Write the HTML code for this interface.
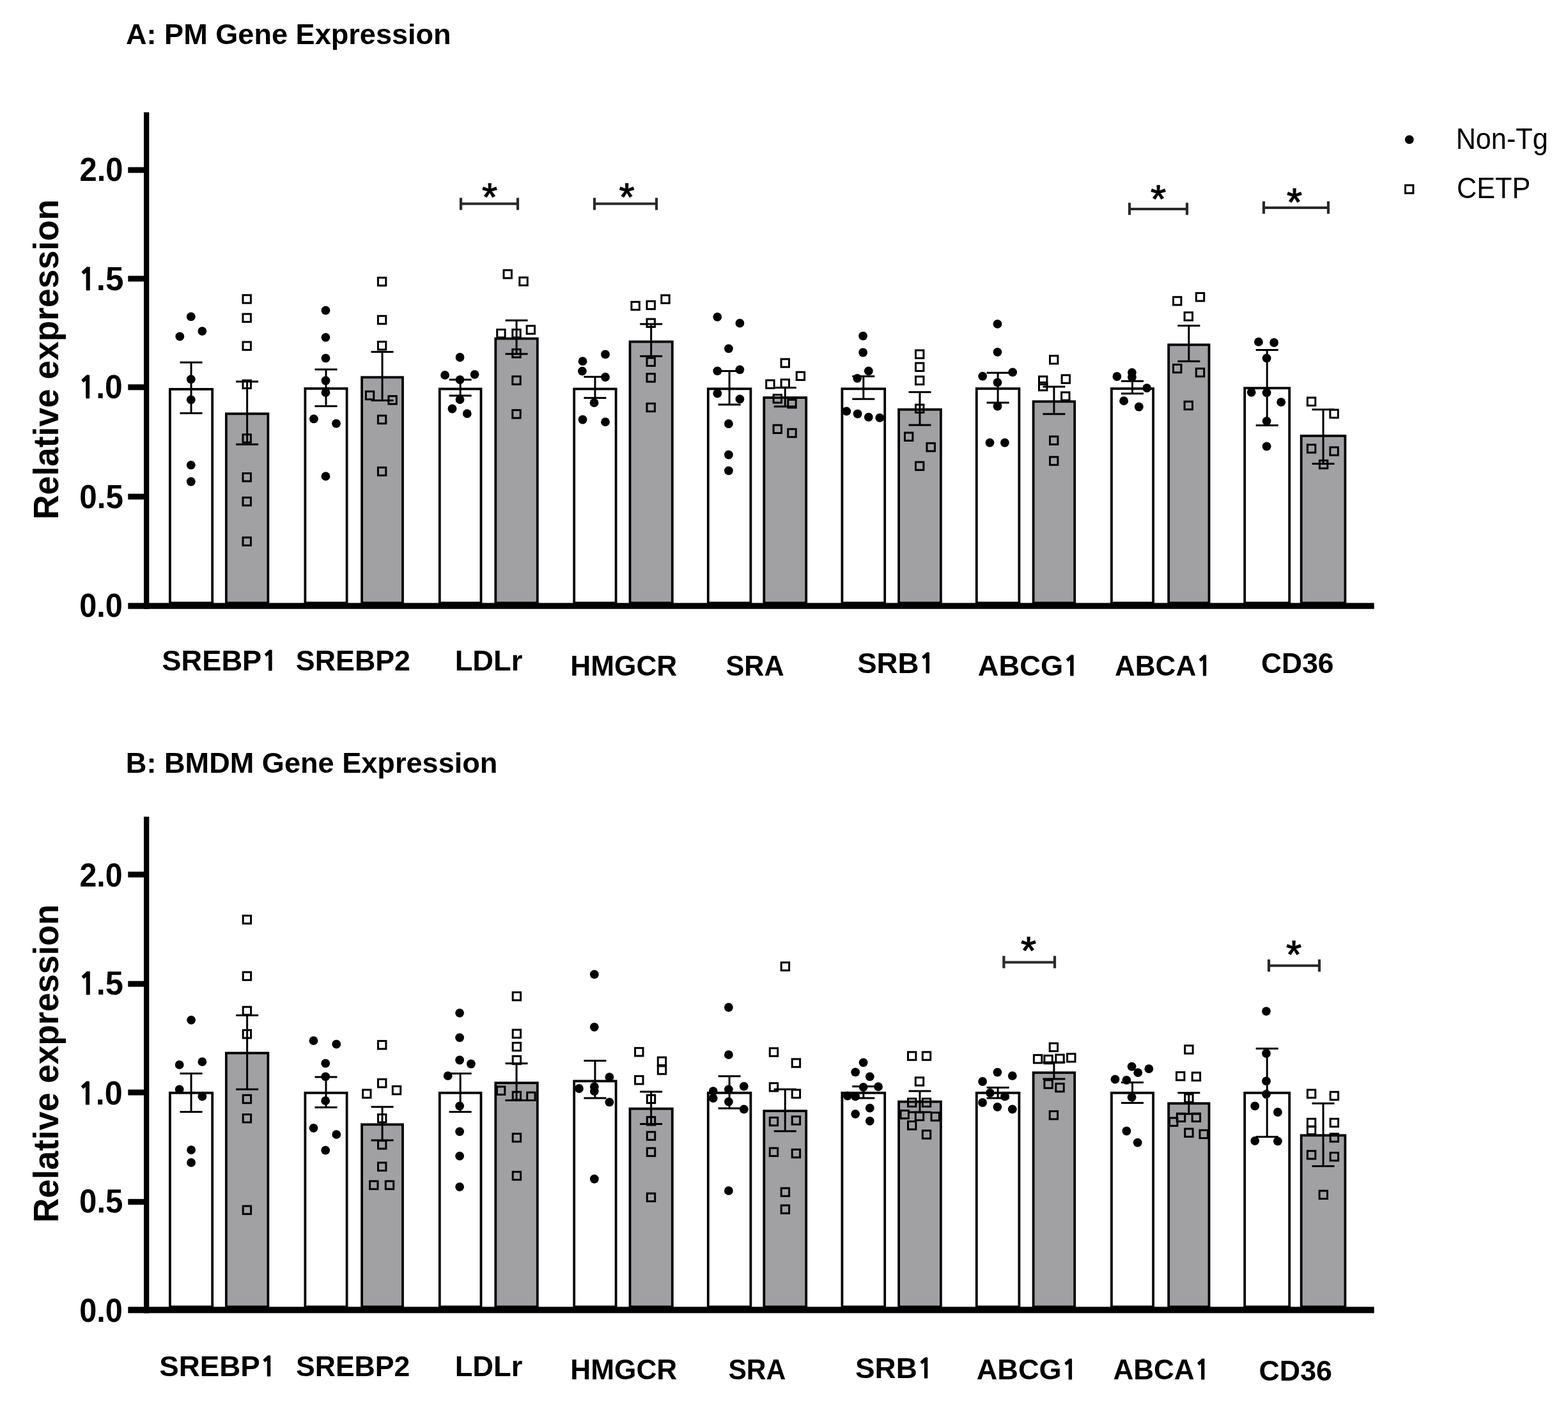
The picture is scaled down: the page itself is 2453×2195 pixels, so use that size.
<!DOCTYPE html>
<html><head><meta charset="utf-8"><title>PM and BMDM Gene Expression</title>
<style>html,body{margin:0;padding:0;background:#fff;overflow:hidden}svg{display:block}</style>
</head><body><div id="fig">
<svg width="2453" height="2195" viewBox="0 0 2453 2195" font-family="Liberation Sans, Arial, sans-serif">
<rect width="2453" height="2195" fill="#fff"/>
<rect x="265.90" y="608.90" width="66.30" height="334.40" fill="#fff" stroke="#000" stroke-width="3.8"/>
<rect x="353.90" y="647.30" width="65.50" height="296.00" fill="#a1a1a4" stroke="#000" stroke-width="3.8"/>
<rect x="477.40" y="607.90" width="65.20" height="335.40" fill="#fff" stroke="#000" stroke-width="3.8"/>
<rect x="566.10" y="590.30" width="63.90" height="353.00" fill="#a1a1a4" stroke="#000" stroke-width="3.8"/>
<rect x="687.80" y="608.50" width="64.70" height="334.80" fill="#fff" stroke="#000" stroke-width="3.8"/>
<rect x="775.30" y="529.70" width="65.50" height="413.60" fill="#a1a1a4" stroke="#000" stroke-width="3.8"/>
<rect x="898.20" y="608.50" width="65.40" height="334.80" fill="#fff" stroke="#000" stroke-width="3.8"/>
<rect x="985.50" y="534.60" width="66.30" height="408.70" fill="#a1a1a4" stroke="#000" stroke-width="3.8"/>
<rect x="1107.80" y="608.30" width="66.60" height="335.00" fill="#fff" stroke="#000" stroke-width="3.8"/>
<rect x="1195.30" y="622.10" width="65.90" height="321.20" fill="#a1a1a4" stroke="#000" stroke-width="3.8"/>
<rect x="1317.40" y="608.30" width="66.80" height="335.00" fill="#fff" stroke="#000" stroke-width="3.8"/>
<rect x="1406.10" y="640.70" width="65.80" height="302.60" fill="#a1a1a4" stroke="#000" stroke-width="3.8"/>
<rect x="1527.80" y="608.00" width="66.60" height="335.30" fill="#fff" stroke="#000" stroke-width="3.8"/>
<rect x="1616.60" y="628.20" width="64.60" height="315.10" fill="#a1a1a4" stroke="#000" stroke-width="3.8"/>
<rect x="1738.90" y="608.00" width="65.20" height="335.30" fill="#fff" stroke="#000" stroke-width="3.8"/>
<rect x="1828.20" y="539.40" width="63.30" height="403.90" fill="#a1a1a4" stroke="#000" stroke-width="3.8"/>
<rect x="1947.20" y="607.20" width="70.00" height="336.10" fill="#fff" stroke="#000" stroke-width="3.8"/>
<rect x="2035.70" y="681.90" width="68.70" height="261.40" fill="#a1a1a4" stroke="#000" stroke-width="3.8"/>
<path d="M281.55 567.00H316.55M299.05 567.00V646.50M281.55 646.50H316.55" stroke="#000" stroke-width="3.0" fill="none"/>
<path d="M369.15 597.00H404.15M386.65 597.00V695.20M369.15 695.20H404.15" stroke="#000" stroke-width="3.0" fill="none"/>
<path d="M492.50 578.00H527.50M510.00 578.00V635.40M492.50 635.40H527.50" stroke="#000" stroke-width="3.0" fill="none"/>
<path d="M580.55 550.50H615.55M598.05 550.50V626.50M580.55 626.50H615.55" stroke="#000" stroke-width="3.0" fill="none"/>
<path d="M702.65 594.10H737.65M720.15 594.10V618.90M702.65 618.90H737.65" stroke="#000" stroke-width="3.0" fill="none"/>
<path d="M790.55 501.20H825.55M808.05 501.20V553.80M790.55 553.80H825.55" stroke="#000" stroke-width="3.0" fill="none"/>
<path d="M913.40 589.60H948.40M930.90 589.60V622.60M913.40 622.60H948.40" stroke="#000" stroke-width="3.0" fill="none"/>
<path d="M1001.15 507.00H1036.15M1018.65 507.00V557.30M1001.15 557.30H1036.15" stroke="#000" stroke-width="3.0" fill="none"/>
<path d="M1123.60 580.40H1158.60M1141.10 580.40V633.10M1123.60 633.10H1158.60" stroke="#000" stroke-width="3.0" fill="none"/>
<path d="M1210.75 606.60H1245.75M1228.25 606.60V636.00M1210.75 636.00H1245.75" stroke="#000" stroke-width="3.0" fill="none"/>
<path d="M1333.30 588.70H1368.30M1350.80 588.70V624.20M1333.30 624.20H1368.30" stroke="#000" stroke-width="3.0" fill="none"/>
<path d="M1421.50 613.40H1456.50M1439.00 613.40V665.10M1421.50 665.10H1456.50" stroke="#000" stroke-width="3.0" fill="none"/>
<path d="M1543.60 583.20H1578.60M1561.10 583.20V629.90M1543.60 629.90H1578.60" stroke="#000" stroke-width="3.0" fill="none"/>
<path d="M1631.40 605.10H1666.40M1648.90 605.10V647.80M1631.40 647.80H1666.40" stroke="#000" stroke-width="3.0" fill="none"/>
<path d="M1754.00 596.20H1789.00M1771.50 596.20V615.80M1754.00 615.80H1789.00" stroke="#000" stroke-width="3.0" fill="none"/>
<path d="M1842.35 509.50H1877.35M1859.85 509.50V565.20M1842.35 565.20H1877.35" stroke="#000" stroke-width="3.0" fill="none"/>
<path d="M1964.70 547.60H1999.70M1982.20 547.60V665.40M1964.70 665.40H1999.70" stroke="#000" stroke-width="3.0" fill="none"/>
<path d="M2052.55 640.70H2087.55M2070.05 640.70V725.60M2052.55 725.60H2087.55" stroke="#000" stroke-width="3.0" fill="none"/>
<circle cx="298.8" cy="495.4" r="6.9"/>
<circle cx="281.3" cy="526.3" r="6.9"/>
<circle cx="316.4" cy="518.1" r="6.9"/>
<circle cx="298.8" cy="593.4" r="6.9"/>
<circle cx="298.8" cy="625.4" r="6.9"/>
<circle cx="298.8" cy="727.7" r="6.9"/>
<circle cx="298.8" cy="753.5" r="6.9"/>
<circle cx="509.5" cy="485.7" r="6.9"/>
<circle cx="509.5" cy="527.8" r="6.9"/>
<circle cx="509.5" cy="560.4" r="6.9"/>
<circle cx="509.5" cy="595.5" r="6.9"/>
<circle cx="509.5" cy="614.1" r="6.9"/>
<circle cx="490.9" cy="655.4" r="6.9"/>
<circle cx="526.0" cy="662.6" r="6.9"/>
<circle cx="509.5" cy="745.2" r="6.9"/>
<circle cx="719.5" cy="559.0" r="6.9"/>
<circle cx="696.1" cy="586.9" r="6.9"/>
<circle cx="742.6" cy="585.8" r="6.9"/>
<circle cx="719.5" cy="594.1" r="6.9"/>
<circle cx="719.5" cy="625.1" r="6.9"/>
<circle cx="707.5" cy="639.5" r="6.9"/>
<circle cx="730.8" cy="647.1" r="6.9"/>
<circle cx="947.0" cy="554.4" r="6.9"/>
<circle cx="911.5" cy="565.2" r="6.9"/>
<circle cx="910.9" cy="580.7" r="6.9"/>
<circle cx="947.0" cy="590.0" r="6.9"/>
<circle cx="929.5" cy="630.2" r="6.9"/>
<circle cx="911.5" cy="656.5" r="6.9"/>
<circle cx="947.0" cy="660.2" r="6.9"/>
<circle cx="1122.3" cy="495.8" r="6.9"/>
<circle cx="1157.4" cy="505.7" r="6.9"/>
<circle cx="1139.9" cy="545.3" r="6.9"/>
<circle cx="1122.3" cy="580.4" r="6.9"/>
<circle cx="1157.4" cy="578.3" r="6.9"/>
<circle cx="1122.3" cy="615.5" r="6.9"/>
<circle cx="1157.4" cy="624.4" r="6.9"/>
<circle cx="1139.9" cy="663.0" r="6.9"/>
<circle cx="1139.9" cy="711.5" r="6.9"/>
<circle cx="1139.9" cy="736.3" r="6.9"/>
<circle cx="1350.1" cy="525.7" r="6.9"/>
<circle cx="1350.1" cy="551.5" r="6.9"/>
<circle cx="1358.8" cy="580.4" r="6.9"/>
<circle cx="1341.2" cy="591.8" r="6.9"/>
<circle cx="1324.3" cy="643.4" r="6.9"/>
<circle cx="1341.6" cy="647.5" r="6.9"/>
<circle cx="1358.8" cy="652.7" r="6.9"/>
<circle cx="1376.3" cy="653.7" r="6.9"/>
<circle cx="1560.5" cy="506.8" r="6.9"/>
<circle cx="1560.5" cy="550.8" r="6.9"/>
<circle cx="1537.2" cy="588.6" r="6.9"/>
<circle cx="1584.2" cy="582.4" r="6.9"/>
<circle cx="1560.5" cy="598.3" r="6.9"/>
<circle cx="1560.5" cy="635.5" r="6.9"/>
<circle cx="1548.5" cy="692.6" r="6.9"/>
<circle cx="1571.9" cy="692.6" r="6.9"/>
<circle cx="1747.4" cy="589.0" r="6.9"/>
<circle cx="1770.9" cy="582.8" r="6.9"/>
<circle cx="1770.9" cy="590.0" r="6.9"/>
<circle cx="1794.2" cy="607.2" r="6.9"/>
<circle cx="1758.1" cy="627.2" r="6.9"/>
<circle cx="1781.8" cy="636.5" r="6.9"/>
<circle cx="1968.9" cy="534.9" r="6.9"/>
<circle cx="1993.1" cy="536.0" r="6.9"/>
<circle cx="1981.6" cy="560.3" r="6.9"/>
<circle cx="1957.7" cy="613.8" r="6.9"/>
<circle cx="1981.6" cy="614.3" r="6.9"/>
<circle cx="2004.2" cy="629.2" r="6.9"/>
<circle cx="1981.6" cy="658.8" r="6.9"/>
<circle cx="1981.6" cy="698.4" r="6.9"/>
<rect x="380.00" y="461.70" width="12.40" height="12.40" fill="none" stroke="#000" stroke-width="3.0"/>
<rect x="380.00" y="491.20" width="12.40" height="12.40" fill="none" stroke="#000" stroke-width="3.0"/>
<rect x="380.00" y="535.00" width="12.40" height="12.40" fill="none" stroke="#000" stroke-width="3.0"/>
<rect x="380.00" y="595.10" width="12.40" height="12.40" fill="none" stroke="#000" stroke-width="3.0"/>
<rect x="380.00" y="679.80" width="12.40" height="12.40" fill="none" stroke="#000" stroke-width="3.0"/>
<rect x="380.00" y="740.50" width="12.40" height="12.40" fill="none" stroke="#000" stroke-width="3.0"/>
<rect x="380.00" y="778.40" width="12.40" height="12.40" fill="none" stroke="#000" stroke-width="3.0"/>
<rect x="380.00" y="840.90" width="12.40" height="12.40" fill="none" stroke="#000" stroke-width="3.0"/>
<rect x="591.40" y="434.40" width="12.40" height="12.40" fill="none" stroke="#000" stroke-width="3.0"/>
<rect x="591.40" y="494.30" width="12.40" height="12.40" fill="none" stroke="#000" stroke-width="3.0"/>
<rect x="591.40" y="534.60" width="12.40" height="12.40" fill="none" stroke="#000" stroke-width="3.0"/>
<rect x="572.40" y="612.40" width="12.40" height="12.40" fill="none" stroke="#000" stroke-width="3.0"/>
<rect x="607.90" y="619.70" width="12.40" height="12.40" fill="none" stroke="#000" stroke-width="3.0"/>
<rect x="591.40" y="650.20" width="12.40" height="12.40" fill="none" stroke="#000" stroke-width="3.0"/>
<rect x="591.40" y="731.40" width="12.40" height="12.40" fill="none" stroke="#000" stroke-width="3.0"/>
<rect x="788.00" y="422.70" width="12.40" height="12.40" fill="none" stroke="#000" stroke-width="3.0"/>
<rect x="812.80" y="434.10" width="12.40" height="12.40" fill="none" stroke="#000" stroke-width="3.0"/>
<rect x="777.70" y="515.60" width="12.40" height="12.40" fill="none" stroke="#000" stroke-width="3.0"/>
<rect x="801.80" y="515.60" width="12.40" height="12.40" fill="none" stroke="#000" stroke-width="3.0"/>
<rect x="824.10" y="509.80" width="12.40" height="12.40" fill="none" stroke="#000" stroke-width="3.0"/>
<rect x="801.80" y="546.60" width="12.40" height="12.40" fill="none" stroke="#000" stroke-width="3.0"/>
<rect x="801.80" y="588.90" width="12.40" height="12.40" fill="none" stroke="#000" stroke-width="3.0"/>
<rect x="801.80" y="641.60" width="12.40" height="12.40" fill="none" stroke="#000" stroke-width="3.0"/>
<rect x="987.90" y="472.30" width="12.40" height="12.40" fill="none" stroke="#000" stroke-width="3.0"/>
<rect x="1012.00" y="471.20" width="12.40" height="12.40" fill="none" stroke="#000" stroke-width="3.0"/>
<rect x="1034.80" y="461.90" width="12.40" height="12.40" fill="none" stroke="#000" stroke-width="3.0"/>
<rect x="1012.00" y="499.10" width="12.40" height="12.40" fill="none" stroke="#000" stroke-width="3.0"/>
<rect x="1012.00" y="560.00" width="12.40" height="12.40" fill="none" stroke="#000" stroke-width="3.0"/>
<rect x="1012.00" y="584.80" width="12.40" height="12.40" fill="none" stroke="#000" stroke-width="3.0"/>
<rect x="1012.00" y="631.30" width="12.40" height="12.40" fill="none" stroke="#000" stroke-width="3.0"/>
<rect x="1222.10" y="561.80" width="12.40" height="12.40" fill="none" stroke="#000" stroke-width="3.0"/>
<rect x="1246.20" y="582.10" width="12.40" height="12.40" fill="none" stroke="#000" stroke-width="3.0"/>
<rect x="1198.70" y="594.90" width="12.40" height="12.40" fill="none" stroke="#000" stroke-width="3.0"/>
<rect x="1222.10" y="593.80" width="12.40" height="12.40" fill="none" stroke="#000" stroke-width="3.0"/>
<rect x="1210.10" y="617.60" width="12.40" height="12.40" fill="none" stroke="#000" stroke-width="3.0"/>
<rect x="1232.80" y="625.40" width="12.40" height="12.40" fill="none" stroke="#000" stroke-width="3.0"/>
<rect x="1210.10" y="665.10" width="12.40" height="12.40" fill="none" stroke="#000" stroke-width="3.0"/>
<rect x="1232.80" y="671.30" width="12.40" height="12.40" fill="none" stroke="#000" stroke-width="3.0"/>
<rect x="1432.50" y="548.00" width="12.40" height="12.40" fill="none" stroke="#000" stroke-width="3.0"/>
<rect x="1432.50" y="568.00" width="12.40" height="12.40" fill="none" stroke="#000" stroke-width="3.0"/>
<rect x="1432.50" y="589.10" width="12.40" height="12.40" fill="none" stroke="#000" stroke-width="3.0"/>
<rect x="1432.50" y="633.10" width="12.40" height="12.40" fill="none" stroke="#000" stroke-width="3.0"/>
<rect x="1415.50" y="677.00" width="12.40" height="12.40" fill="none" stroke="#000" stroke-width="3.0"/>
<rect x="1450.00" y="693.40" width="12.40" height="12.40" fill="none" stroke="#000" stroke-width="3.0"/>
<rect x="1432.50" y="722.90" width="12.40" height="12.40" fill="none" stroke="#000" stroke-width="3.0"/>
<rect x="1642.50" y="556.60" width="12.40" height="12.40" fill="none" stroke="#000" stroke-width="3.0"/>
<rect x="1661.10" y="586.90" width="12.40" height="12.40" fill="none" stroke="#000" stroke-width="3.0"/>
<rect x="1625.50" y="589.00" width="12.40" height="12.40" fill="none" stroke="#000" stroke-width="3.0"/>
<rect x="1625.50" y="598.30" width="12.40" height="12.40" fill="none" stroke="#000" stroke-width="3.0"/>
<rect x="1660.60" y="613.80" width="12.40" height="12.40" fill="none" stroke="#000" stroke-width="3.0"/>
<rect x="1642.50" y="682.90" width="12.40" height="12.40" fill="none" stroke="#000" stroke-width="3.0"/>
<rect x="1642.50" y="714.90" width="12.40" height="12.40" fill="none" stroke="#000" stroke-width="3.0"/>
<rect x="1835.50" y="464.70" width="12.40" height="12.40" fill="none" stroke="#000" stroke-width="3.0"/>
<rect x="1871.30" y="458.50" width="12.40" height="12.40" fill="none" stroke="#000" stroke-width="3.0"/>
<rect x="1853.10" y="488.80" width="12.40" height="12.40" fill="none" stroke="#000" stroke-width="3.0"/>
<rect x="1835.50" y="570.40" width="12.40" height="12.40" fill="none" stroke="#000" stroke-width="3.0"/>
<rect x="1871.30" y="576.60" width="12.40" height="12.40" fill="none" stroke="#000" stroke-width="3.0"/>
<rect x="1853.10" y="628.20" width="12.40" height="12.40" fill="none" stroke="#000" stroke-width="3.0"/>
<rect x="2045.40" y="622.10" width="12.40" height="12.40" fill="none" stroke="#000" stroke-width="3.0"/>
<rect x="2080.90" y="641.10" width="12.40" height="12.40" fill="none" stroke="#000" stroke-width="3.0"/>
<rect x="2045.40" y="695.70" width="12.40" height="12.40" fill="none" stroke="#000" stroke-width="3.0"/>
<rect x="2080.90" y="699.80" width="12.40" height="12.40" fill="none" stroke="#000" stroke-width="3.0"/>
<rect x="2064.40" y="720.40" width="12.40" height="12.40" fill="none" stroke="#000" stroke-width="3.0"/>
<rect x="225" y="175.60" width="8.3" height="777.10" fill="#000"/>
<rect x="200.3" y="943.30" width="1949.40" height="9.40" fill="#000"/>
<rect x="200.3" y="261.50" width="28" height="9" fill="#000"/>
<rect x="200.3" y="431.50" width="28" height="9" fill="#000"/>
<rect x="200.3" y="601.30" width="28" height="9" fill="#000"/>
<rect x="200.3" y="772.50" width="28" height="9" fill="#000"/>
<path d="M721.0 318.8H810.0" stroke="#2a2a2a" stroke-width="4" fill="none"/>
<path d="M721.0 309.6V328.5M810.0 309.6V328.5" stroke="#2a2a2a" stroke-width="4.2" fill="none"/>
<text transform="translate(754.07,329.18) scale(1.0000,1)" font-weight="normal" font-size="62" fill="#000" stroke="#000" stroke-width="1.2">*</text>
<path d="M930.0 318.8H1027.0" stroke="#2a2a2a" stroke-width="4" fill="none"/>
<path d="M930.0 309.6V328.5M1027.0 309.6V328.5" stroke="#2a2a2a" stroke-width="4.2" fill="none"/>
<text transform="translate(968.57,329.18) scale(1.0000,1)" font-weight="normal" font-size="62" fill="#000" stroke="#000" stroke-width="1.2">*</text>
<path d="M1767.0 327.0H1857.0" stroke="#2a2a2a" stroke-width="4" fill="none"/>
<path d="M1767.0 317.3V336.3M1857.0 317.3V336.3" stroke="#2a2a2a" stroke-width="4.2" fill="none"/>
<text transform="translate(1800.06,332.28) scale(1.0000,1)" font-weight="normal" font-size="62" fill="#000" stroke="#000" stroke-width="1.2">*</text>
<path d="M1977.0 325.0H2078.0" stroke="#2a2a2a" stroke-width="4" fill="none"/>
<path d="M1977.0 315.0V334.5M2078.0 315.0V334.5" stroke="#2a2a2a" stroke-width="4.2" fill="none"/>
<text transform="translate(2013.06,337.48) scale(1.0000,1)" font-weight="normal" font-size="62" fill="#000" stroke="#000" stroke-width="1.2">*</text>
<text transform="translate(196.97,69.10) scale(1.0250,1)" font-weight="bold" font-size="44" fill="#000">A: PM Gene Expression</text>
<text transform="translate(91.20,812.77) rotate(-90) scale(0.9609,1)" font-weight="bold" font-size="55.5">Relative expression</text>
<text transform="translate(124.49,283.30) scale(0.9495,1)" font-weight="bold" font-size="51.5" fill="#000">2.0</text>
<text transform="translate(122.17,454.10) scale(0.9933,1)" font-weight="bold" font-size="51.5" fill="#000"><tspan font-family="NanumGothic, Liberation Sans, sans-serif" font-size="47.64" stroke="#000" stroke-width="1.10" stroke-linejoin="round">1</tspan>.5</text>
<text transform="translate(122.32,622.90) scale(0.9670,1)" font-weight="bold" font-size="51.5" fill="#000"><tspan font-family="NanumGothic, Liberation Sans, sans-serif" font-size="47.64" stroke="#000" stroke-width="1.10" stroke-linejoin="round">1</tspan>.0</text>
<text transform="translate(124.22,795.40) scale(0.9591,1)" font-weight="bold" font-size="51.5" fill="#000">0.5</text>
<text transform="translate(124.25,964.50) scale(0.9457,1)" font-weight="bold" font-size="51.5" fill="#000">0.0</text>
<text transform="translate(253.34,1049.20) scale(1.0173,1)" font-weight="bold" font-size="44.5" fill="#000">SREBP<tspan font-family="NanumGothic, Liberation Sans, sans-serif" font-size="41.16" stroke="#000" stroke-width="0.95" stroke-linejoin="round">1</tspan></text>
<text transform="translate(462.86,1049.20) scale(1.0064,1)" font-weight="bold" font-size="44.5" fill="#000">SREBP2</text>
<text transform="translate(711.65,1049.10) scale(1.0185,1)" font-weight="bold" font-size="44.5" fill="#000">LDLr</text>
<text transform="translate(892.22,1056.50) scale(0.9945,1)" font-weight="bold" font-size="44.5" fill="#000">HMGCR</text>
<text transform="translate(1135.40,1056.50) scale(0.9721,1)" font-weight="bold" font-size="44.5" fill="#000">SRA</text>
<text transform="translate(1341.13,1053.10) scale(1.0269,1)" font-weight="bold" font-size="44.5" fill="#000">SRB<tspan font-family="NanumGothic, Liberation Sans, sans-serif" font-size="41.16" stroke="#000" stroke-width="0.95" stroke-linejoin="round">1</tspan></text>
<text transform="translate(1529.87,1056.50) scale(1.0181,1)" font-weight="bold" font-size="44.5" fill="#000">ABCG<tspan font-family="NanumGothic, Liberation Sans, sans-serif" font-size="41.16" stroke="#000" stroke-width="0.95" stroke-linejoin="round">1</tspan></text>
<text transform="translate(1744.00,1056.50) scale(0.9902,1)" font-weight="bold" font-size="44.5" fill="#000">ABCA<tspan font-family="NanumGothic, Liberation Sans, sans-serif" font-size="41.16" stroke="#000" stroke-width="0.95" stroke-linejoin="round">1</tspan></text>
<text transform="translate(1973.02,1053.10) scale(0.9976,1)" font-weight="bold" font-size="44.5" fill="#000">CD36</text>
<rect x="265.90" y="1709.80" width="66.30" height="334.70" fill="#fff" stroke="#000" stroke-width="3.8"/>
<rect x="353.90" y="1647.50" width="65.50" height="397.00" fill="#a1a1a4" stroke="#000" stroke-width="3.8"/>
<rect x="477.40" y="1709.80" width="65.20" height="334.70" fill="#fff" stroke="#000" stroke-width="3.8"/>
<rect x="566.10" y="1759.30" width="63.90" height="285.20" fill="#a1a1a4" stroke="#000" stroke-width="3.8"/>
<rect x="687.80" y="1709.80" width="64.70" height="334.70" fill="#fff" stroke="#000" stroke-width="3.8"/>
<rect x="775.30" y="1694.20" width="65.50" height="350.30" fill="#a1a1a4" stroke="#000" stroke-width="3.8"/>
<rect x="898.20" y="1691.40" width="65.40" height="353.10" fill="#fff" stroke="#000" stroke-width="3.8"/>
<rect x="985.50" y="1734.60" width="66.30" height="309.90" fill="#a1a1a4" stroke="#000" stroke-width="3.8"/>
<rect x="1107.80" y="1709.80" width="66.60" height="334.70" fill="#fff" stroke="#000" stroke-width="3.8"/>
<rect x="1195.30" y="1738.10" width="65.90" height="306.40" fill="#a1a1a4" stroke="#000" stroke-width="3.8"/>
<rect x="1317.40" y="1709.80" width="66.80" height="334.70" fill="#fff" stroke="#000" stroke-width="3.8"/>
<rect x="1406.10" y="1723.60" width="65.80" height="320.90" fill="#a1a1a4" stroke="#000" stroke-width="3.8"/>
<rect x="1527.80" y="1709.80" width="66.60" height="334.70" fill="#fff" stroke="#000" stroke-width="3.8"/>
<rect x="1616.60" y="1678.20" width="64.60" height="366.30" fill="#a1a1a4" stroke="#000" stroke-width="3.8"/>
<rect x="1738.90" y="1709.80" width="65.20" height="334.70" fill="#fff" stroke="#000" stroke-width="3.8"/>
<rect x="1828.20" y="1726.30" width="63.30" height="318.20" fill="#a1a1a4" stroke="#000" stroke-width="3.8"/>
<rect x="1947.20" y="1709.80" width="70.00" height="334.70" fill="#fff" stroke="#000" stroke-width="3.8"/>
<rect x="2035.70" y="1776.30" width="68.70" height="268.20" fill="#a1a1a4" stroke="#000" stroke-width="3.8"/>
<path d="M281.55 1679.60H316.55M299.05 1679.60V1739.50M281.55 1739.50H316.55" stroke="#000" stroke-width="3.0" fill="none"/>
<path d="M369.15 1588.40H404.15M386.65 1588.40V1704.30M369.15 1704.30H404.15" stroke="#000" stroke-width="3.0" fill="none"/>
<path d="M492.50 1685.10H527.50M510.00 1685.10V1732.40M492.50 1732.40H527.50" stroke="#000" stroke-width="3.0" fill="none"/>
<path d="M580.55 1731.80H615.55M598.05 1731.80V1784.00M580.55 1784.00H615.55" stroke="#000" stroke-width="3.0" fill="none"/>
<path d="M702.65 1679.60H737.65M720.15 1679.60V1739.50M702.65 1739.50H737.65" stroke="#000" stroke-width="3.0" fill="none"/>
<path d="M790.55 1663.70H825.55M808.05 1663.70V1721.60M790.55 1721.60H825.55" stroke="#000" stroke-width="3.0" fill="none"/>
<path d="M913.40 1659.60H948.40M930.90 1659.60V1718.10M913.40 1718.10H948.40" stroke="#000" stroke-width="3.0" fill="none"/>
<path d="M1001.15 1707.90H1036.15M1018.65 1707.90V1758.50M1001.15 1758.50H1036.15" stroke="#000" stroke-width="3.0" fill="none"/>
<path d="M1123.60 1683.70H1158.60M1141.10 1683.70V1734.00M1123.60 1734.00H1158.60" stroke="#000" stroke-width="3.0" fill="none"/>
<path d="M1210.75 1704.30H1245.75M1228.25 1704.30V1769.70M1210.75 1769.70H1245.75" stroke="#000" stroke-width="3.0" fill="none"/>
<path d="M1333.30 1699.70H1368.30M1350.80 1699.70V1718.10M1333.30 1718.10H1368.30" stroke="#000" stroke-width="3.0" fill="none"/>
<path d="M1421.50 1707.10H1456.50M1439.00 1707.10V1740.00M1421.50 1740.00H1456.50" stroke="#000" stroke-width="3.0" fill="none"/>
<path d="M1543.60 1701.60H1578.60M1561.10 1701.60V1718.00M1543.60 1718.00H1578.60" stroke="#000" stroke-width="3.0" fill="none"/>
<path d="M1631.40 1662.00H1666.40M1648.90 1662.00V1688.00M1631.40 1688.00H1666.40" stroke="#000" stroke-width="3.0" fill="none"/>
<path d="M1754.00 1693.40H1789.00M1771.50 1693.40V1725.50M1754.00 1725.50H1789.00" stroke="#000" stroke-width="3.0" fill="none"/>
<path d="M1842.35 1709.80H1877.35M1859.85 1709.80V1742.80M1842.35 1742.80H1877.35" stroke="#000" stroke-width="3.0" fill="none"/>
<path d="M1964.70 1640.60H1999.70M1982.20 1640.60V1778.50M1964.70 1778.50H1999.70" stroke="#000" stroke-width="3.0" fill="none"/>
<path d="M2052.55 1726.30H2087.55M2070.05 1726.30V1824.40M2052.55 1824.40H2087.55" stroke="#000" stroke-width="3.0" fill="none"/>
<circle cx="299.1" cy="1595.8" r="6.9"/>
<circle cx="280.7" cy="1665.9" r="6.9"/>
<circle cx="316.4" cy="1661.2" r="6.9"/>
<circle cx="280.7" cy="1704.3" r="6.9"/>
<circle cx="316.4" cy="1715.3" r="6.9"/>
<circle cx="299.1" cy="1799.1" r="6.9"/>
<circle cx="299.1" cy="1818.9" r="6.9"/>
<circle cx="490.5" cy="1628.2" r="6.9"/>
<circle cx="526.3" cy="1633.7" r="6.9"/>
<circle cx="509.2" cy="1663.7" r="6.9"/>
<circle cx="509.2" cy="1684.3" r="6.9"/>
<circle cx="509.2" cy="1722.2" r="6.9"/>
<circle cx="490.5" cy="1764.8" r="6.9"/>
<circle cx="526.3" cy="1774.9" r="6.9"/>
<circle cx="509.2" cy="1799.7" r="6.9"/>
<circle cx="719.1" cy="1584.8" r="6.9"/>
<circle cx="719.1" cy="1623.3" r="6.9"/>
<circle cx="719.1" cy="1658.5" r="6.9"/>
<circle cx="736.9" cy="1664.5" r="6.9"/>
<circle cx="700.7" cy="1683.2" r="6.9"/>
<circle cx="719.1" cy="1730.4" r="6.9"/>
<circle cx="719.1" cy="1770.3" r="6.9"/>
<circle cx="719.1" cy="1808.7" r="6.9"/>
<circle cx="719.1" cy="1856.8" r="6.9"/>
<circle cx="929.8" cy="1524.4" r="6.9"/>
<circle cx="929.8" cy="1606.8" r="6.9"/>
<circle cx="953.4" cy="1685.1" r="6.9"/>
<circle cx="905.9" cy="1703.0" r="6.9"/>
<circle cx="929.8" cy="1700.2" r="6.9"/>
<circle cx="929.8" cy="1707.1" r="6.9"/>
<circle cx="953.4" cy="1724.4" r="6.9"/>
<circle cx="929.8" cy="1844.5" r="6.9"/>
<circle cx="1139.9" cy="1576.0" r="6.9"/>
<circle cx="1139.9" cy="1650.2" r="6.9"/>
<circle cx="1163.8" cy="1699.7" r="6.9"/>
<circle cx="1139.9" cy="1704.3" r="6.9"/>
<circle cx="1115.7" cy="1707.1" r="6.9"/>
<circle cx="1115.7" cy="1718.1" r="6.9"/>
<circle cx="1139.9" cy="1723.6" r="6.9"/>
<circle cx="1163.8" cy="1735.4" r="6.9"/>
<circle cx="1139.9" cy="1862.9" r="6.9"/>
<circle cx="1350.6" cy="1662.3" r="6.9"/>
<circle cx="1338.2" cy="1677.4" r="6.9"/>
<circle cx="1360.8" cy="1684.3" r="6.9"/>
<circle cx="1350.6" cy="1700.8" r="6.9"/>
<circle cx="1374.0" cy="1700.2" r="6.9"/>
<circle cx="1325.9" cy="1714.5" r="6.9"/>
<circle cx="1338.2" cy="1715.3" r="6.9"/>
<circle cx="1360.8" cy="1733.7" r="6.9"/>
<circle cx="1338.2" cy="1742.8" r="6.9"/>
<circle cx="1360.8" cy="1753.8" r="6.9"/>
<circle cx="1560.4" cy="1677.7" r="6.9"/>
<circle cx="1537.1" cy="1692.0" r="6.9"/>
<circle cx="1583.8" cy="1683.2" r="6.9"/>
<circle cx="1548.9" cy="1709.8" r="6.9"/>
<circle cx="1572.0" cy="1715.3" r="6.9"/>
<circle cx="1537.1" cy="1725.0" r="6.9"/>
<circle cx="1560.4" cy="1731.8" r="6.9"/>
<circle cx="1583.8" cy="1735.4" r="6.9"/>
<circle cx="1770.6" cy="1668.6" r="6.9"/>
<circle cx="1797.3" cy="1672.2" r="6.9"/>
<circle cx="1780.2" cy="1678.2" r="6.9"/>
<circle cx="1744.5" cy="1688.7" r="6.9"/>
<circle cx="1762.4" cy="1689.8" r="6.9"/>
<circle cx="1770.6" cy="1716.7" r="6.9"/>
<circle cx="1762.4" cy="1769.5" r="6.9"/>
<circle cx="1779.7" cy="1787.6" r="6.9"/>
<circle cx="1981.0" cy="1582.1" r="6.9"/>
<circle cx="1981.0" cy="1648.0" r="6.9"/>
<circle cx="1981.0" cy="1691.4" r="6.9"/>
<circle cx="1981.0" cy="1711.8" r="6.9"/>
<circle cx="1963.2" cy="1730.4" r="6.9"/>
<circle cx="1998.9" cy="1740.0" r="6.9"/>
<circle cx="1963.2" cy="1784.8" r="6.9"/>
<circle cx="1998.9" cy="1785.4" r="6.9"/>
<rect x="380.20" y="1432.50" width="12.40" height="12.40" fill="none" stroke="#000" stroke-width="3.0"/>
<rect x="380.20" y="1520.90" width="12.40" height="12.40" fill="none" stroke="#000" stroke-width="3.0"/>
<rect x="380.20" y="1575.30" width="12.40" height="12.40" fill="none" stroke="#000" stroke-width="3.0"/>
<rect x="380.20" y="1611.60" width="12.40" height="12.40" fill="none" stroke="#000" stroke-width="3.0"/>
<rect x="380.20" y="1713.30" width="12.40" height="12.40" fill="none" stroke="#000" stroke-width="3.0"/>
<rect x="380.20" y="1743.50" width="12.40" height="12.40" fill="none" stroke="#000" stroke-width="3.0"/>
<rect x="380.20" y="1886.90" width="12.40" height="12.40" fill="none" stroke="#000" stroke-width="3.0"/>
<rect x="591.50" y="1628.60" width="12.40" height="12.40" fill="none" stroke="#000" stroke-width="3.0"/>
<rect x="591.50" y="1688.50" width="12.40" height="12.40" fill="none" stroke="#000" stroke-width="3.0"/>
<rect x="567.60" y="1705.00" width="12.40" height="12.40" fill="none" stroke="#000" stroke-width="3.0"/>
<rect x="614.30" y="1699.50" width="12.40" height="12.40" fill="none" stroke="#000" stroke-width="3.0"/>
<rect x="591.50" y="1743.50" width="12.40" height="12.40" fill="none" stroke="#000" stroke-width="3.0"/>
<rect x="591.50" y="1784.70" width="12.40" height="12.40" fill="none" stroke="#000" stroke-width="3.0"/>
<rect x="591.50" y="1819.00" width="12.40" height="12.40" fill="none" stroke="#000" stroke-width="3.0"/>
<rect x="578.60" y="1847.90" width="12.40" height="12.40" fill="none" stroke="#000" stroke-width="3.0"/>
<rect x="603.30" y="1847.90" width="12.40" height="12.40" fill="none" stroke="#000" stroke-width="3.0"/>
<rect x="802.20" y="1552.50" width="12.40" height="12.40" fill="none" stroke="#000" stroke-width="3.0"/>
<rect x="802.20" y="1611.10" width="12.40" height="12.40" fill="none" stroke="#000" stroke-width="3.0"/>
<rect x="802.20" y="1631.40" width="12.40" height="12.40" fill="none" stroke="#000" stroke-width="3.0"/>
<rect x="802.20" y="1652.30" width="12.40" height="12.40" fill="none" stroke="#000" stroke-width="3.0"/>
<rect x="777.40" y="1700.10" width="12.40" height="12.40" fill="none" stroke="#000" stroke-width="3.0"/>
<rect x="802.20" y="1708.30" width="12.40" height="12.40" fill="none" stroke="#000" stroke-width="3.0"/>
<rect x="824.70" y="1709.10" width="12.40" height="12.40" fill="none" stroke="#000" stroke-width="3.0"/>
<rect x="802.20" y="1773.70" width="12.40" height="12.40" fill="none" stroke="#000" stroke-width="3.0"/>
<rect x="802.20" y="1833.30" width="12.40" height="12.40" fill="none" stroke="#000" stroke-width="3.0"/>
<rect x="993.60" y="1639.60" width="12.40" height="12.40" fill="none" stroke="#000" stroke-width="3.0"/>
<rect x="1029.30" y="1654.20" width="12.40" height="12.40" fill="none" stroke="#000" stroke-width="3.0"/>
<rect x="1029.30" y="1667.90" width="12.40" height="12.40" fill="none" stroke="#000" stroke-width="3.0"/>
<rect x="993.60" y="1683.60" width="12.40" height="12.40" fill="none" stroke="#000" stroke-width="3.0"/>
<rect x="1012.30" y="1713.30" width="12.40" height="12.40" fill="none" stroke="#000" stroke-width="3.0"/>
<rect x="1012.30" y="1747.60" width="12.40" height="12.40" fill="none" stroke="#000" stroke-width="3.0"/>
<rect x="1012.30" y="1770.90" width="12.40" height="12.40" fill="none" stroke="#000" stroke-width="3.0"/>
<rect x="1012.30" y="1796.20" width="12.40" height="12.40" fill="none" stroke="#000" stroke-width="3.0"/>
<rect x="1012.30" y="1867.10" width="12.40" height="12.40" fill="none" stroke="#000" stroke-width="3.0"/>
<rect x="1222.20" y="1505.80" width="12.40" height="12.40" fill="none" stroke="#000" stroke-width="3.0"/>
<rect x="1204.30" y="1639.90" width="12.40" height="12.40" fill="none" stroke="#000" stroke-width="3.0"/>
<rect x="1239.20" y="1656.90" width="12.40" height="12.40" fill="none" stroke="#000" stroke-width="3.0"/>
<rect x="1204.30" y="1694.60" width="12.40" height="12.40" fill="none" stroke="#000" stroke-width="3.0"/>
<rect x="1239.20" y="1705.00" width="12.40" height="12.40" fill="none" stroke="#000" stroke-width="3.0"/>
<rect x="1204.30" y="1748.40" width="12.40" height="12.40" fill="none" stroke="#000" stroke-width="3.0"/>
<rect x="1239.20" y="1746.80" width="12.40" height="12.40" fill="none" stroke="#000" stroke-width="3.0"/>
<rect x="1204.30" y="1796.20" width="12.40" height="12.40" fill="none" stroke="#000" stroke-width="3.0"/>
<rect x="1239.20" y="1798.40" width="12.40" height="12.40" fill="none" stroke="#000" stroke-width="3.0"/>
<rect x="1222.20" y="1858.90" width="12.40" height="12.40" fill="none" stroke="#000" stroke-width="3.0"/>
<rect x="1222.20" y="1885.80" width="12.40" height="12.40" fill="none" stroke="#000" stroke-width="3.0"/>
<rect x="1420.50" y="1645.90" width="12.40" height="12.40" fill="none" stroke="#000" stroke-width="3.0"/>
<rect x="1443.30" y="1645.90" width="12.40" height="12.40" fill="none" stroke="#000" stroke-width="3.0"/>
<rect x="1432.30" y="1685.80" width="12.40" height="12.40" fill="none" stroke="#000" stroke-width="3.0"/>
<rect x="1420.50" y="1718.80" width="12.40" height="12.40" fill="none" stroke="#000" stroke-width="3.0"/>
<rect x="1443.30" y="1718.80" width="12.40" height="12.40" fill="none" stroke="#000" stroke-width="3.0"/>
<rect x="1409.00" y="1737.40" width="12.40" height="12.40" fill="none" stroke="#000" stroke-width="3.0"/>
<rect x="1432.30" y="1740.20" width="12.40" height="12.40" fill="none" stroke="#000" stroke-width="3.0"/>
<rect x="1457.00" y="1740.70" width="12.40" height="12.40" fill="none" stroke="#000" stroke-width="3.0"/>
<rect x="1420.50" y="1754.50" width="12.40" height="12.40" fill="none" stroke="#000" stroke-width="3.0"/>
<rect x="1443.30" y="1768.80" width="12.40" height="12.40" fill="none" stroke="#000" stroke-width="3.0"/>
<rect x="1642.20" y="1632.20" width="12.40" height="12.40" fill="none" stroke="#000" stroke-width="3.0"/>
<rect x="1617.40" y="1650.60" width="12.40" height="12.40" fill="none" stroke="#000" stroke-width="3.0"/>
<rect x="1633.90" y="1651.40" width="12.40" height="12.40" fill="none" stroke="#000" stroke-width="3.0"/>
<rect x="1651.80" y="1650.10" width="12.40" height="12.40" fill="none" stroke="#000" stroke-width="3.0"/>
<rect x="1669.60" y="1648.70" width="12.40" height="12.40" fill="none" stroke="#000" stroke-width="3.0"/>
<rect x="1633.90" y="1689.90" width="12.40" height="12.40" fill="none" stroke="#000" stroke-width="3.0"/>
<rect x="1651.80" y="1695.40" width="12.40" height="12.40" fill="none" stroke="#000" stroke-width="3.0"/>
<rect x="1642.20" y="1738.50" width="12.40" height="12.40" fill="none" stroke="#000" stroke-width="3.0"/>
<rect x="1853.70" y="1635.80" width="12.40" height="12.40" fill="none" stroke="#000" stroke-width="3.0"/>
<rect x="1840.50" y="1677.50" width="12.40" height="12.40" fill="none" stroke="#000" stroke-width="3.0"/>
<rect x="1865.20" y="1678.10" width="12.40" height="12.40" fill="none" stroke="#000" stroke-width="3.0"/>
<rect x="1853.70" y="1711.90" width="12.40" height="12.40" fill="none" stroke="#000" stroke-width="3.0"/>
<rect x="1841.30" y="1742.10" width="12.40" height="12.40" fill="none" stroke="#000" stroke-width="3.0"/>
<rect x="1865.20" y="1742.10" width="12.40" height="12.40" fill="none" stroke="#000" stroke-width="3.0"/>
<rect x="1829.50" y="1749.00" width="12.40" height="12.40" fill="none" stroke="#000" stroke-width="3.0"/>
<rect x="1853.70" y="1766.00" width="12.40" height="12.40" fill="none" stroke="#000" stroke-width="3.0"/>
<rect x="1877.00" y="1768.20" width="12.40" height="12.40" fill="none" stroke="#000" stroke-width="3.0"/>
<rect x="2045.40" y="1705.00" width="12.40" height="12.40" fill="none" stroke="#000" stroke-width="3.0"/>
<rect x="2081.20" y="1708.30" width="12.40" height="12.40" fill="none" stroke="#000" stroke-width="3.0"/>
<rect x="2045.40" y="1750.30" width="12.40" height="12.40" fill="none" stroke="#000" stroke-width="3.0"/>
<rect x="2081.20" y="1750.30" width="12.40" height="12.40" fill="none" stroke="#000" stroke-width="3.0"/>
<rect x="2045.40" y="1762.20" width="12.40" height="12.40" fill="none" stroke="#000" stroke-width="3.0"/>
<rect x="2081.20" y="1773.70" width="12.40" height="12.40" fill="none" stroke="#000" stroke-width="3.0"/>
<rect x="2045.40" y="1800.60" width="12.40" height="12.40" fill="none" stroke="#000" stroke-width="3.0"/>
<rect x="2081.20" y="1803.40" width="12.40" height="12.40" fill="none" stroke="#000" stroke-width="3.0"/>
<rect x="2064.10" y="1863.00" width="12.40" height="12.40" fill="none" stroke="#000" stroke-width="3.0"/>
<rect x="225" y="1277.70" width="8.3" height="776.70" fill="#000"/>
<rect x="200.3" y="2044.50" width="1949.40" height="9.90" fill="#000"/>
<rect x="200.3" y="1363.70" width="28" height="9" fill="#000"/>
<rect x="200.3" y="1534.80" width="28" height="9" fill="#000"/>
<rect x="200.3" y="1704.60" width="28" height="9" fill="#000"/>
<rect x="200.3" y="1875.80" width="28" height="9" fill="#000"/>
<path d="M1570.4 1505.6H1650.0" stroke="#2a2a2a" stroke-width="4" fill="none"/>
<path d="M1570.4 1495.5V1514.8M1650.0 1495.5V1514.8" stroke="#2a2a2a" stroke-width="4.2" fill="none"/>
<text transform="translate(1597.06,1508.18) scale(1.0000,1)" font-weight="normal" font-size="62" fill="#000" stroke="#000" stroke-width="1.2">*</text>
<path d="M1985.0 1510.7H2064.0" stroke="#2a2a2a" stroke-width="4" fill="none"/>
<path d="M1985.0 1501.0V1520.3M2064.0 1501.0V1520.3" stroke="#2a2a2a" stroke-width="4.2" fill="none"/>
<text transform="translate(2012.06,1514.18) scale(1.0000,1)" font-weight="normal" font-size="62" fill="#000" stroke="#000" stroke-width="1.2">*</text>
<text transform="translate(196.87,1209.40) scale(1.0257,1)" font-weight="bold" font-size="44" fill="#000">B: BMDM Gene Expression</text>
<text transform="translate(91.20,1912.75) rotate(-90) scale(0.9551,1)" font-weight="bold" font-size="55.5">Relative expression</text>
<text transform="translate(124.51,1387.00) scale(0.9376,1)" font-weight="bold" font-size="51.5" fill="#000">2.0</text>
<text transform="translate(122.43,1556.00) scale(0.9825,1)" font-weight="bold" font-size="51.5" fill="#000"><tspan font-family="NanumGothic, Liberation Sans, sans-serif" font-size="47.64" stroke="#000" stroke-width="1.10" stroke-linejoin="round">1</tspan>.5</text>
<text transform="translate(121.67,1727.50) scale(0.9763,1)" font-weight="bold" font-size="51.5" fill="#000"><tspan font-family="NanumGothic, Liberation Sans, sans-serif" font-size="47.64" stroke="#000" stroke-width="1.10" stroke-linejoin="round">1</tspan>.0</text>
<text transform="translate(124.03,1896.90) scale(0.9562,1)" font-weight="bold" font-size="51.5" fill="#000">0.5</text>
<text transform="translate(124.25,2068.10) scale(0.9457,1)" font-weight="bold" font-size="51.5" fill="#000">0.0</text>
<text transform="translate(249.23,2153.10) scale(1.0275,1)" font-weight="bold" font-size="44.5" fill="#000">SREBP<tspan font-family="NanumGothic, Liberation Sans, sans-serif" font-size="41.16" stroke="#000" stroke-width="0.95" stroke-linejoin="round">1</tspan></text>
<text transform="translate(462.96,2153.10) scale(1.0018,1)" font-weight="bold" font-size="44.5" fill="#000">SREBP2</text>
<text transform="translate(711.65,2153.10) scale(1.0185,1)" font-weight="bold" font-size="44.5" fill="#000">LDLr</text>
<text transform="translate(892.22,2158.40) scale(0.9945,1)" font-weight="bold" font-size="44.5" fill="#000">HMGCR</text>
<text transform="translate(1139.42,2158.40) scale(0.9579,1)" font-weight="bold" font-size="44.5" fill="#000">SRA</text>
<text transform="translate(1337.92,2156.30) scale(1.0315,1)" font-weight="bold" font-size="44.5" fill="#000">SRB<tspan font-family="NanumGothic, Liberation Sans, sans-serif" font-size="41.16" stroke="#000" stroke-width="0.95" stroke-linejoin="round">1</tspan></text>
<text transform="translate(1527.67,2158.40) scale(1.0153,1)" font-weight="bold" font-size="44.5" fill="#000">ABCG<tspan font-family="NanumGothic, Liberation Sans, sans-serif" font-size="41.16" stroke="#000" stroke-width="0.95" stroke-linejoin="round">1</tspan></text>
<text transform="translate(1741.40,2158.40) scale(0.9895,1)" font-weight="bold" font-size="44.5" fill="#000">ABCA<tspan font-family="NanumGothic, Liberation Sans, sans-serif" font-size="41.16" stroke="#000" stroke-width="0.95" stroke-linejoin="round">1</tspan></text>
<text transform="translate(1969.51,2159.70) scale(1.0058,1)" font-weight="bold" font-size="44.5" fill="#000">CD36</text>
<circle cx="2204.8" cy="218.4" r="6.9"/>
<rect x="2198.50" y="289.80" width="12.40" height="12.40" fill="none" stroke="#000" stroke-width="3.0"/>
<text transform="translate(2277.64,232.60) scale(0.9494,1)" font-weight="normal" font-size="45.5" fill="#000">Non-Tg</text>
<text transform="translate(2278.94,310.00) scale(0.9511,1)" font-weight="normal" font-size="45.5" fill="#000">CETP</text>
</svg>
</div></body></html>
